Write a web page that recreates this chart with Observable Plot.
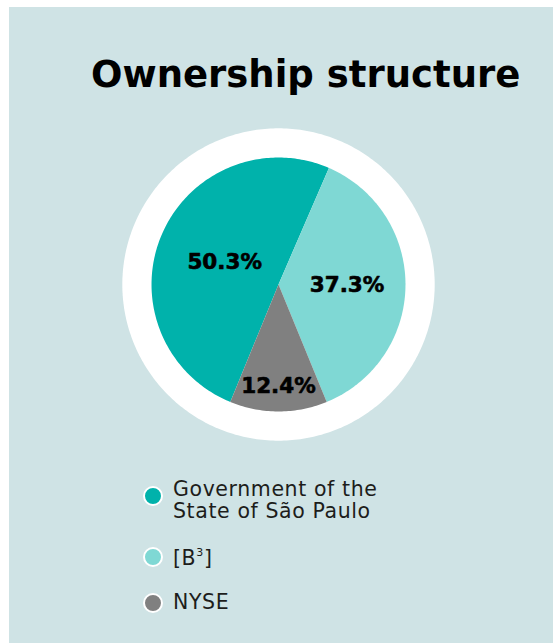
<!DOCTYPE html>
<html>
<head>
<meta charset="utf-8">
<script src="https://cdn.jsdelivr.net/npm/d3@7"></script>
<script src="https://cdn.jsdelivr.net/npm/@observablehq/plot@0.6"></script>
<style>
  html, body { margin: 0; padding: 0; background: #ffffff; }
  body { width: 553px; height: 644px; position: relative; overflow: hidden; }
  #panel { position: absolute; left: 9px; top: 7px; width: 544px; height: 636px; background: #cfe3e5; }
  #title { position: absolute; left: 91px; top: 56px; margin: 0; font-family: "DejaVu Sans", sans-serif; font-weight: bold; font-size: 37px; line-height: 37px; color: #000000; white-space: nowrap; }
  #chart { position: absolute; left: 118px; top: 124px; }
  .legend-item { position: absolute; left: 143px; display: flex; align-items: flex-start; font-family: "DejaVu Sans", sans-serif; font-size: 20.5px; line-height: 22px; letter-spacing: 0.6px; color: #1d1d1b; }
  .swatch { position: absolute; left: 0; width: 16px; height: 16px; border-radius: 50%; border: 2px solid #ffffff; box-sizing: content-box; }
  .legend-item .label { margin-left: 30px; white-space: nowrap; }
  sup { font-size: 11px; line-height: 0; position: relative; top: -1px; }
</style>
</head>
<body>
<div id="panel"></div>
<h2 id="title">Ownership structure</h2>
<div id="chart"></div>
<div id="legend"></div>
<script>
// ---- data ----
const categories = ["Government of the State of São Paulo", "[B3]", "NYSE"];
const legendLabels = ["Government of the<br>State of São Paulo", "[B<sup>3</sup>]", "NYSE"];
const values = [50.3, 37.3, 12.4];
const colors = ["#00b2ab", "#7fd8d4", "#808080"];

// ---- layout (geometry only) ----
const size = 320;
const extent = 1.26;            // data units half-width of the plot
const ringRadius = 1.23;        // white ring, in pie radii
const labelRadius = [0.46, 0.54, 0.80];

const total = d3.sum(values);
const lastAngle = values[values.length - 1] / total * 2 * Math.PI;
const start = -Math.PI + lastAngle / 2;

const arcs = d3.pie().sort(null).startAngle(start).endAngle(start + 2 * Math.PI)(values);

const slicePts = [];
arcs.forEach((a, i) => {
  const n = Math.max(2, Math.ceil((a.endAngle - a.startAngle) / (Math.PI / 180)));
  slicePts.push({category: categories[i], x: 0, y: 0});
  for (let k = 0; k <= n; k++) {
    const t = a.startAngle + (a.endAngle - a.startAngle) * k / n;
    slicePts.push({category: categories[i], x: Math.sin(t), y: Math.cos(t)});
  }
  slicePts.push({category: categories[i], x: 0, y: 0});
});

const ringPts = d3.range(0, 361).map(d => {
  const t = d * Math.PI / 180;
  return {x: ringRadius * Math.sin(t), y: ringRadius * Math.cos(t)};
});

const labels = arcs.map((a, i) => {
  const m = (a.startAngle + a.endAngle) / 2;
  return {x: labelRadius[i] * Math.sin(m), y: labelRadius[i] * Math.cos(m), text: values[i].toFixed(1) + "%"};
});

const chart = Plot.plot({
  width: size,
  height: size,
  margin: 0,
  x: {domain: [-extent, extent], axis: null},
  y: {domain: [-extent, extent], axis: null},
  color: {domain: categories, range: colors, type: "ordinal"},
  style: {background: "transparent", overflow: "visible"},
  marks: [
    Plot.line(ringPts, {x: "x", y: "y", fill: "#ffffff", stroke: "none"}),
    Plot.line(slicePts, {x: "x", y: "y", z: "category", fill: "category", stroke: "none"}),
    Plot.text(labels, {x: "x", y: "y", text: "text", fontSize: 21.5, fontWeight: "bold", fontFamily: "DejaVu Sans", fill: "#000000", stroke: "#000000", strokeWidth: 0.6})
  ]
});
document.getElementById("chart").appendChild(chart);

// ---- legend ----
const legendTops = [478, 547, 591];
const swatchOffsets = [8, 0, 2];
const legend = document.getElementById("legend");
categories.forEach((c, i) => {
  const item = document.createElement("div");
  item.className = "legend-item";
  item.style.top = legendTops[i] + "px";
  const sw = document.createElement("span");
  sw.className = "swatch";
  sw.style.background = colors[i];
  sw.style.top = swatchOffsets[i] + "px";
  const lab = document.createElement("span");
  lab.className = "label";
  lab.innerHTML = legendLabels[i];
  item.appendChild(sw);
  item.appendChild(lab);
  legend.appendChild(item);
});
</script>
</body>
</html>
